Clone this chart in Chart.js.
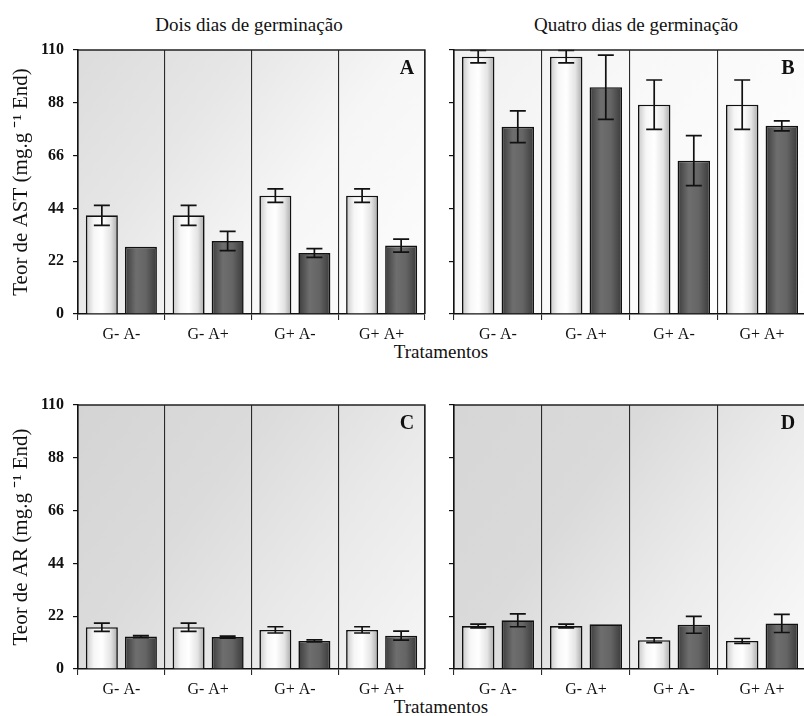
<!DOCTYPE html>
<html><head><meta charset="utf-8">
<script src="https://cdn.jsdelivr.net/npm/chart.js@4.4.1/dist/chart.umd.min.js"></script>
<style>
html,body{margin:0;padding:0;width:804px;height:716px;overflow:hidden;background:#fff;}
canvas{position:absolute;}
.txt{position:absolute;font-family:"Liberation Serif","Times New Roman",serif;color:#111;white-space:nowrap;transform:translate(-50%,-50%);}
</style></head><body>
<div class="txt" style="left:249px;top:25px;font-size:19px">Dois dias de germinação</div>
<div class="txt" style="left:636px;top:25px;font-size:19px">Quatro dias de germinação</div>
<div class="txt" style="left:441px;top:352px;font-size:19px">Tratamentos</div>
<div class="txt" style="left:441px;top:707px;font-size:19px">Tratamentos</div>
<canvas id="cA" width="440" height="345" style="left:0;top:0"></canvas>
<canvas id="cB" width="380" height="345" style="left:440px;top:0"></canvas>
<canvas id="cC" width="440" height="350" style="left:0;top:358px"></canvas>
<canvas id="cD" width="380" height="350" style="left:440px;top:358px"></canvas>
<script>
// ---- data ----
const categories = ["G- A-", "G- A+", "G+ A-", "G+ A+"];
const yTicks = [0, 22, 44, 66, 88, 110];

const astDois_claro = [41.1, 41.1, 49.3, 49.3];
const astDois_claroErr = [4.2, 4.2, 2.8, 2.8];
const astDois_escuro = [28.0, 30.4, 25.4, 28.5];
const astDois_escuroErr = [0, 4.0, 1.8, 2.7];

const astQuatro_claro = [107.2, 107.2, 87.2, 87.2];
const astQuatro_claroErr = [2.6, 2.6, 10.3, 10.3];
const astQuatro_escuro = [78.0, 94.5, 63.9, 78.4];
const astQuatro_escuroErr = [6.6, 13.4, 10.4, 2.1];

const arDois_claro = [17.4, 17.4, 16.3, 16.3];
const arDois_claroErr = [1.7, 1.7, 1.3, 1.3];
const arDois_escuro = [13.5, 13.3, 11.7, 13.9];
const arDois_escuroErr = [0.4, 0.4, 0.4, 1.9];

const arQuatro_claro = [17.9, 17.9, 12.0, 11.7];
const arQuatro_claroErr = [0.8, 0.8, 1.0, 1.0];
const arQuatro_escuro = [20.3, 18.6, 18.4, 19.0];
const arQuatro_escuroErr = [2.7, 0, 3.5, 3.8];

// ---- styling ----
const F = '"Liberation Serif","Times New Roman",serif';
const CP = 0.9, BP = 0.82;

function barFill(kind) {
  return (ctx) => {
    const chart = ctx.chart;
    const xs = chart.scales && chart.scales.x;
    if (!chart.chartArea || !xs || ctx.type !== 'data') return kind === 0 ? '#eeeeee' : '#555555';
    const catW = xs.width / categories.length;
    const center = xs.getPixelForValue(ctx.dataIndex);
    const slot = catW * CP / 2;
    const bw = slot * BP;
    const bc = center + (ctx.datasetIndex === 0 ? -slot / 2 : slot / 2);
    const g = chart.ctx.createLinearGradient(bc - bw / 2, 0, bc + bw / 2, 0);
    if (kind === 0) {
      g.addColorStop(0, '#c8c8c8'); g.addColorStop(0.25, '#f6f6f6');
      g.addColorStop(0.5, '#ffffff'); g.addColorStop(0.78, '#e4e4e4'); g.addColorStop(1, '#a8a8a8');
    } else {
      g.addColorStop(0, '#3c3c3c'); g.addColorStop(0.35, '#6e6e6e');
      g.addColorStop(0.65, '#656565'); g.addColorStop(1, '#3a3a3a');
    }
    return g;
  };
}

const errPlugin = {
  id: 'errbars',
  afterDatasetsDraw(chart, args, opts) {
    const ys = chart.scales.y, c = chart.ctx;
    c.save(); c.strokeStyle = '#111'; c.lineWidth = 1.7;
    chart.data.datasets.forEach((ds, di) => {
      const meta = chart.getDatasetMeta(di);
      const errs = opts.errors[di];
      meta.data.forEach((el, i) => {
        const e = errs[i]; if (!e) return;
        const v = ds.data[i];
        const x = el.x;
        const y1 = ys.getPixelForValue(v + e), y2 = ys.getPixelForValue(v - e);
        c.beginPath();
        c.moveTo(x, y1); c.lineTo(x, y2);
        c.moveTo(x - 8, y1); c.lineTo(x + 8, y1);
        c.moveTo(x - 8, y2); c.lineTo(x + 8, y2);
        c.stroke();
      });
    });
    c.restore();
  }
};

const framePlugin = {
  id: 'frame',
  beforeDraw(chart, args, opts) {
    const a = chart.chartArea, c = chart.ctx;
    const g = c.createLinearGradient(a.left, a.top, a.right, a.bottom);
    opts.bg.forEach(s => g.addColorStop(s[0], s[1]));
    c.save(); c.fillStyle = g; c.fillRect(a.left, a.top, a.right - a.left, a.bottom - a.top); c.restore();
  },
  afterDraw(chart, args, opts) {
    const a = chart.chartArea, c = chart.ctx;
    c.save();
    c.strokeStyle = '#222'; c.lineWidth = 1.3;
    c.beginPath(); c.moveTo(a.left, a.top); c.lineTo(a.right, a.top); c.lineTo(a.right, a.bottom); c.stroke();
    c.fillStyle = '#111'; c.font = 'bold 20px ' + F; c.textAlign = 'center'; c.textBaseline = 'middle';
    c.fillText(opts.letter, a.right - 18, a.top + 19);
    c.restore();
  }
};

function panel(id, letter, w, we, d, de, cfg) {
  return new Chart(document.getElementById(id), {
    type: 'bar',
    data: {
      labels: categories,
      datasets: [
        { data: w, backgroundColor: barFill(0), borderColor: '#111', borderWidth: 1.6, categoryPercentage: CP, barPercentage: BP },
        { data: d, backgroundColor: barFill(1), borderColor: '#111', borderWidth: 1.6, categoryPercentage: CP, barPercentage: BP }
      ]
    },
    options: {
      responsive: false, animation: false, events: [],
      layout: { padding: { top: cfg.padTop, right: cfg.padRight, left: 0, bottom: 0 } },
      plugins: {
        legend: { display: false }, tooltip: { enabled: false },
        errbars: { errors: [we, de] },
        frame: { letter: letter, bg: cfg.bg }
      },
      scales: {
        x: {
          grid: { offset: true, color: '#2a2a2a', lineWidth: 1.1, tickLength: 6, drawOnChartArea: true },
          border: { color: '#111', width: 1.6 },
          ticks: { color: '#111', font: { family: F, size: 16 }, padding: 5, maxRotation: 0 },
          afterFit: s => { s.height = cfg.xH; }
        },
        y: {
          min: 0, max: 110,
          afterBuildTicks: s => { s.ticks = yTicks.map(v => ({ value: v })); },
          ticks: { display: cfg.showY, color: '#111', font: { family: F, size: 16, weight: 'bold' }, padding: 9 },
          grid: { drawOnChartArea: false, color: '#111', tickLength: 5, lineWidth: 1.2 },
          border: { color: '#111', width: 1.6 },
          title: { display: !!cfg.yTitle, text: cfg.yTitle || '', color: '#111', font: { family: F, size: 21 }, padding: { top: 9, bottom: 0 } },
          afterFit: s => { s.width = cfg.yW; }
        }
      }
    },
    plugins: [framePlugin, errPlugin]
  });
}

const bgA = [[0, '#dcdcdc'], [0.3, '#e6e6e6'], [0.6, '#f6f6f6'], [1, '#fdfdfd']];
const bgB = [[0, '#f0f0f0'], [0.35, '#f8f8f8'], [1, '#ffffff']];
const bgC = [[0, '#d4d4d4'], [0.35, '#dbdbdb'], [0.65, '#e9e9e9'], [1, '#f6f6f6']];
const bgD = [[0, '#d6d6d6'], [0.35, '#dadada'], [0.65, '#ebebeb'], [1, '#fafafa']];

panel('cA', 'A', astDois_claro, astDois_claroErr, astDois_escuro, astDois_escuroErr,
  { padTop: 50, padRight: 15, xH: 31, yW: 78, showY: true, yTitle: 'Teor de AST (mg.g ⁻¹ End)', bg: bgA });
panel('cB', 'B', astQuatro_claro, astQuatro_claroErr, astQuatro_escuro, astQuatro_escuroErr,
  { padTop: 50, padRight: 14, xH: 31, yW: 14, showY: false, yTitle: '', bg: bgB });
panel('cC', 'C', arDois_claro, arDois_claroErr, arDois_escuro, arDois_escuroErr,
  { padTop: 47, padRight: 15, xH: 39, yW: 78, showY: true, yTitle: 'Teor de AR (mg.g ⁻¹ End)', bg: bgC });
panel('cD', 'D', arQuatro_claro, arQuatro_claroErr, arQuatro_escuro, arQuatro_escuroErr,
  { padTop: 47, padRight: 14, xH: 39, yW: 14, showY: false, yTitle: '', bg: bgD });
</script>
</body></html>
